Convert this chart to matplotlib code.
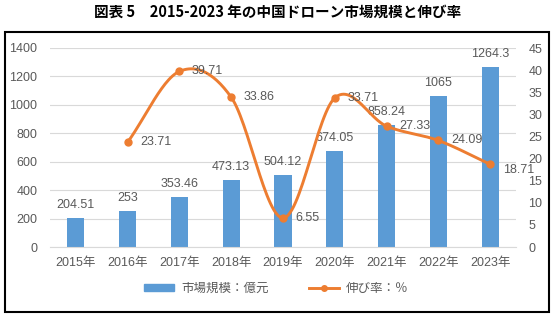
"""
China drone market size and growth rate, 2015-2023.
"""

import numpy as np
import matplotlib
matplotlib.use("Agg")
import matplotlib.pyplot as plt
from matplotlib.patches import Rectangle
from matplotlib.lines import Line2D

years = [2015, 2016, 2017, 2018, 2019, 2020, 2021, 2022, 2023]
year_labels = ["2015年", "2016年", "2017年", "2018年", "2019年", "2020年", "2021年", "2022年", "2023年"]
market_size = [204.51, 253, 353.46, 473.13, 504.12, 674.05, 858.24, 1065, 1264.3]
growth_years = [2016, 2017, 2018, 2019, 2020, 2021, 2022, 2023]
growth_rate = [23.71, 39.71, 33.86, 6.55, 33.71, 27.33, 24.09, 18.71]

title = "図表 5　2015-2023 年の中国ドローン市場規模と伸び率"
bar_name = "市場規模：億元"
line_name = "伸び率：％"

BAR_COLOR = "#5B9BD5"
LINE_COLOR = "#ED7D31"
TEXT_COLOR = "#595959"
FONTS = ["Liberation Sans", "Noto Sans CJK JP"]

W, H = 555, 319


def smooth(xs, ys, steps=30):
    """Catmull-Rom curve through the points (like Excel's smoothed line)."""
    xs = np.asarray(xs, float)
    ys = np.asarray(ys, float)
    px = np.concatenate([[2 * xs[0] - xs[1]], xs, [2 * xs[-1] - xs[-2]]])
    py = np.concatenate([[2 * ys[0] - ys[1]], ys, [2 * ys[-1] - ys[-2]]])
    out_x, out_y = [], []
    t = np.linspace(0, 1, steps)
    for i in range(1, len(px) - 2):
        for arr, out in ((px, out_x), (py, out_y)):
            p0, p1, p2, p3 = arr[i - 1], arr[i], arr[i + 1], arr[i + 2]
            c = 0.5 * ((2 * p1) + (-p0 + p2) * t + (2 * p0 - 5 * p1 + 4 * p2 - p3) * t ** 2
                       + (-p0 + 3 * p1 - 3 * p2 + p3) * t ** 3)
            out.extend(c)
    return np.array(out_x), np.array(out_y)


plt.rcParams["font.family"] = FONTS

fig = plt.figure(figsize=(W / 100, H / 100), dpi=100)

left, right, top, bottom = 50, 516, 48, 247
ax = fig.add_axes([left / W, 1 - bottom / H, (right - left) / W, (bottom - top) / H])
ax2 = ax.twinx()

x = np.arange(len(years))
ax.bar(x, market_size, width=0.33, color=BAR_COLOR, zorder=2)
for xi, v in zip(x, market_size):
    ax.annotate(f"{v:g}", (xi, v), xytext=(0, 5), textcoords="offset points",
                ha="center", va="bottom", fontsize=9, color=TEXT_COLOR)

gx = np.array([years.index(y) for y in growth_years])
sx, sy = smooth(gx, growth_rate)
ax2.plot(sx, sy, color=LINE_COLOR, lw=2.1, solid_capstyle="round", zorder=3)
ax2.plot(gx, growth_rate, "o", color=LINE_COLOR, ms=5, zorder=4)
for i, (xi, v) in enumerate(zip(gx, growth_rate)):
    # last label nudged down a little so it does not sit on the "20" tick label
    dy = -4 if i == len(gx) - 1 else 0
    ax2.annotate(f"{v:g}", (xi, v), xytext=(9, dy), textcoords="offset points",
                 ha="left", va="center", fontsize=9, color=TEXT_COLOR)

ax.set_xlim(-0.5, len(years) - 0.5)
ax.set_ylim(0, 1400)
ax.set_yticks(range(0, 1401, 200))
ax2.set_ylim(0, 45)
ax2.set_yticks(range(0, 46, 5))
ax.set_xticks(x)
ax.set_xticklabels(year_labels)

ax.grid(axis="y", color="#D9D9D9", lw=0.8, zorder=0)
ax.set_axisbelow(True)
for a in (ax, ax2):
    for s in a.spines.values():
        s.set_visible(False)
ax.spines["bottom"].set_visible(True)
ax.spines["bottom"].set_color("#D9D9D9")
ax.tick_params(axis="both", length=0, labelsize=9, labelcolor=TEXT_COLOR)
ax.tick_params(axis="y", pad=9)
ax.tick_params(axis="x", pad=7)
ax2.tick_params(axis="y", length=0, labelsize=9, labelcolor=TEXT_COLOR, pad=9)

fig.text(0.5, 1 - 12 / H, title, ha="center", va="center", fontsize=10.5,
         fontweight="bold", family=["Noto Sans CJK JP", "DejaVu Sans"])

# frame around the chart
fig.patches.append(Rectangle((5 / W, 1 - 312 / H), 544 / W, 280 / H, transform=fig.transFigure,
                             fill=False, edgecolor="black", lw=1.5))

handles = [
    Rectangle((0, 0), 1, 1, color=BAR_COLOR),
    Line2D([], [], color=LINE_COLOR, lw=2.1, marker="o", ms=4),
]
leg = fig.legend(handles, [bar_name, line_name], loc="center", bbox_to_anchor=(276 / W, 1 - 289 / H),
                 ncol=2, frameon=False, fontsize=9, handlelength=2.4, handleheight=0.5,
                 columnspacing=3.2, handletextpad=0.6)
for t in leg.get_texts():
    t.set_color(TEXT_COLOR)

fig.savefig("out.png", dpi=100)
